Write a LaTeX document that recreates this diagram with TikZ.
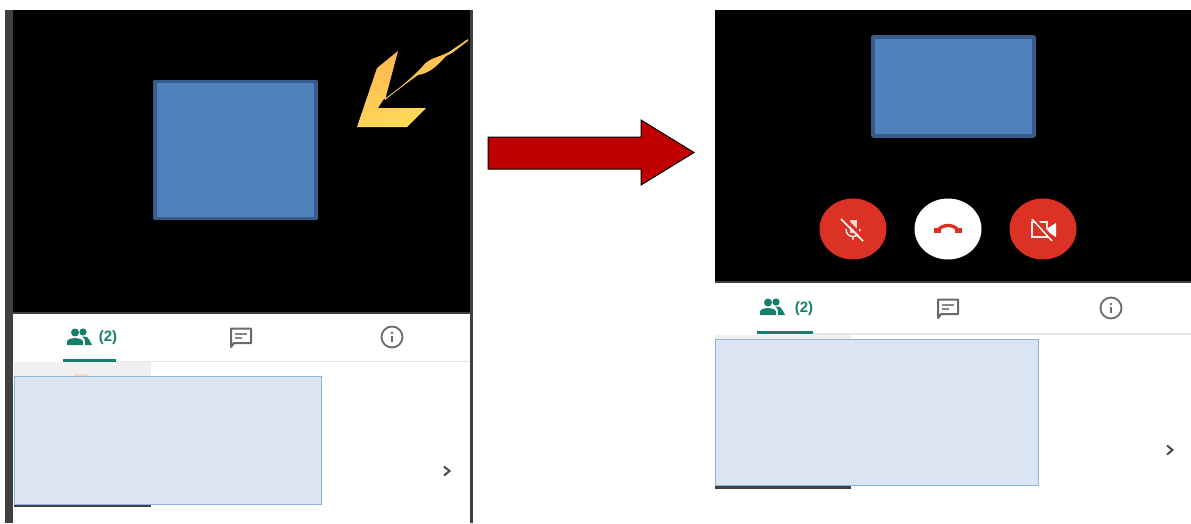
\documentclass[tikz,border=0pt]{standalone}
\usepackage{fontspec}
\setmainfont{Liberation Sans}
\definecolor{barc}{HTML}{404040}
\definecolor{bluef}{HTML}{4F81BD}
\definecolor{blueb}{HTML}{385D8A}
\definecolor{palef}{HTML}{DBE5F1}
\definecolor{paleb}{HTML}{8DB3E2}
\definecolor{teal1}{HTML}{157F6B}
\definecolor{red1}{HTML}{DC3125}
\definecolor{icong}{HTML}{666A6E}
\definecolor{arrowr}{HTML}{C00000}
\definecolor{gold1}{HTML}{FFB24F}
\definecolor{gold2}{HTML}{FFDF5A}
\tikzset{
  x=1pt,y=-1pt,
  bluebox/.style={fill=bluef,draw=blueb,line width=3.5pt,line join=round},
  palebox/.style={fill=palef,draw=paleb,line width=0.7pt},
  callbtn/.style={fill=red1,draw=none},
  tablabel/.style={text=teal1,font=\fontsize{15}{15}\selectfont\bfseries,inner sep=0pt},
  people/.pic={
    \fill[teal1] (-4,-4.5) circle (4);
    \fill[teal1] (4,-5) circle (3.6);
    \fill[teal1] (-12,8) -- (-12,4.5) .. controls (-11,0) and (3,0) .. (4,4.5) -- (4,8) -- cycle;
    \fill[teal1] (3,-0.5) .. controls (8,-1) and (10,1) .. (11,4) -- (13,8) -- (6,8) -- (6,4) .. controls (6,2) and (5,1) .. (3,-0.5) -- cycle;
  },
  chaticon/.pic={
    \draw[icong,line width=2pt,line join=round,fill=white] (-10,-8.5) -- (10,-8.5) -- (10,6) -- (-7,6) -- (-10,10) -- cycle;
    \draw[icong!80!white,line width=2pt] (-6,-3.5) -- (6,-3.5) (-6,0.5) -- (1,0.5);
  },
  infoicon/.pic={
    \draw[icong,line width=1.8pt,fill=white] (0,0) circle (10.5);
    \fill[icong] (-1.2,-1) rectangle (1.2,5);
    \fill[icong] (0,-4) circle (1.4);
  },
  chevron/.pic={
    \draw[icong!70!black,line width=2pt] (-3,-4.5) -- (2.5,0) -- (-3,4.5);
  },
}
\begin{document}
\begin{tikzpicture}
\useasboundingbox (0,0) rectangle (1191,523);
\fill[white] (0,0) rectangle (1191,523);

% left phone
\fill[barc] (5,10) rectangle (13,523);
\fill[barc] (470,10) rectangle (473,523);
\fill[black] (13,10) rectangle (470,312);
\fill[barc] (13,312) rectangle (470,314);
\node[bluebox,minimum width=161pt,minimum height=137pt,inner sep=0pt] (lscreen) at (235.5,150) {};
% gold arrow
\shade[left color=gold1,right color=gold2,shading angle=20,draw=none]
  (398,51) -- (377,68) -- (357,127) -- (407,127) -- (426,108) -- (378,108) -- (383,100)
  .. controls (400,88) and (415,75) .. (422,67)
  .. controls (428,58) and (440,57) .. (449,52)
  -- (468,39) -- (468,41)
  .. controls (458,48) and (452,54) .. (446,56)
  .. controls (437,66) and (430,73) .. (418,75)
  .. controls (408,82) and (395,92) .. (385,100)
  -- cycle;
% left tabs
\pic at (79,337) {people};
\node[tablabel] (l2) at (108,338) {(2)};
\fill[teal1] (63,358.5) rectangle (116,361.5);
\pic at (241,337) {chaticon};
\pic at (392,337) {infoicon};
\fill[gray!20] (116,360.5) rectangle (470,362);
\fill[gray!12] (14,362) rectangle (151,376);
\fill[orange!30] (74,374) rectangle (88,376);
\fill[barc] (14,504) rectangle (151,507);
\node[palebox,minimum width=307.5pt,minimum height=128pt,inner sep=0pt] (lpale) at (167.75,440) {};
\pic at (447,471) {chevron};

% big arrow
\draw[fill=arrowr,draw=black,line width=1pt,line join=miter]
  (488,137) -- (641,137) -- (641,120) -- (694,152.5) -- (641,185) -- (641,169) -- (488,169) -- cycle;

% right phone
\fill[black] (715,10) rectangle (1191,281);
\fill[barc] (715,281) rectangle (1191,283);
\node[bluebox,minimum width=161pt,minimum height=99pt,inner sep=0pt] (rscreen) at (953.5,86.5) {};
\path[callbtn] (853,229) ellipse (33.5 and 30.5);
\fill[white] (948,229) ellipse (33.5 and 30.5);
\path[callbtn] (1043,229) ellipse (33.5 and 30.5);
% mic off
\fill[white!80!red1] (849.5,220) rectangle (856.5,233);
\draw[white,line width=1.3pt] (846,229) .. controls (846,239) and (860,239) .. (860,229) (853,236) -- (853,240);
\draw[red1,line width=3pt] (843,217) -- (865,239);
\draw[white,line width=1.5pt] (841,219) -- (863,241);
% hang up
\draw[red1,line width=3.4pt] (938,230) .. controls (943,224) and (953,224) .. (958,230);
\fill[red1] (934,227.5) rectangle (941,232.5);
\fill[red1] (955,227.5) rectangle (962,232.5);
% camera off
\draw[white!90!red1,line width=1.6pt] (1032,222) rectangle (1047,237);
\fill[white] (1048,228) -- (1056,223) -- (1056,237) -- (1048,232) -- cycle;
\draw[red1,line width=3pt] (1034,218) -- (1054,240);
\draw[white,line width=1.4pt] (1032,219) -- (1052,241);
% right tabs
\pic at (772,307) {people};
\node[tablabel] (r2) at (804,309) {(2)};
\fill[teal1] (757,331) rectangle (813,334);
\pic at (948,308) {chaticon};
\pic at (1111,308) {infoicon};
\fill[gray!20] (813,333) rectangle (1191,334.5);
\fill[gray!12] (715,334.5) rectangle (851,339);
\fill[barc] (715,486) rectangle (851,488.5);
\node[palebox,minimum width=323.5pt,minimum height=146pt,inner sep=0pt] (rpale) at (876.75,412) {};
\pic at (1170,450) {chevron};
\end{tikzpicture}
\end{document}
